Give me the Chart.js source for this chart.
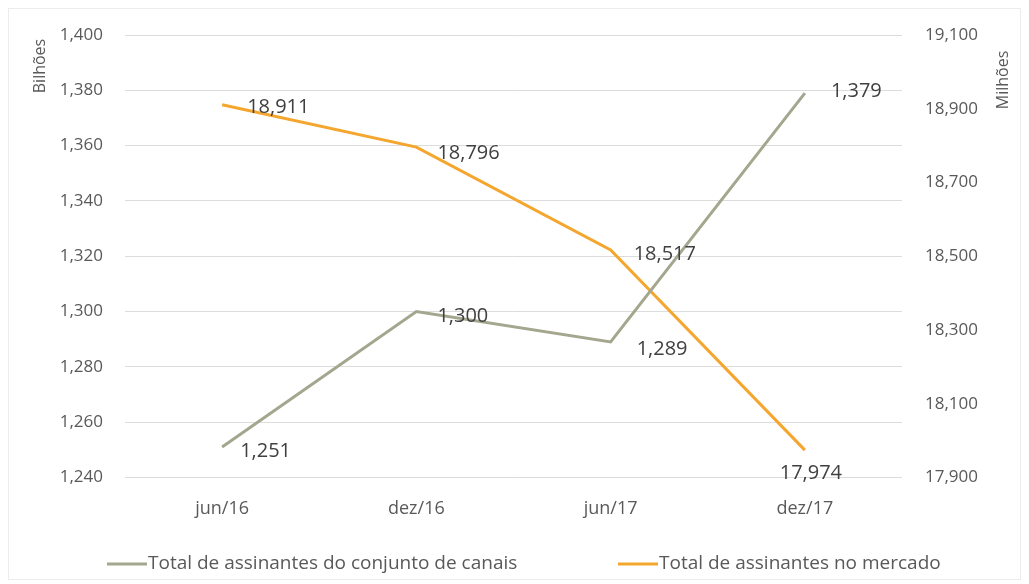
<!DOCTYPE html>
<html>
<head>
<meta charset="utf-8">
<script src="https://cdn.jsdelivr.net/npm/chart.js@4"></script>
<style>
  html, body { margin: 0; padding: 0; background: #fff; }
  #wrap { position: relative; width: 1029px; height: 584px; }
  #frame { position: absolute; left: 8px; top: 8px; right: 8px; bottom: 4px; border: 1px solid #ececec; pointer-events: none; }
</style>
</head>
<body>
<div id="wrap">
  <canvas id="assinantesChart" width="1029" height="584"></canvas>
  <div id="frame"></div>
</div>
<script>
const periodos = ['jun/16', 'dez/16', 'jun/17', 'dez/17'];
const conjuntoCanais = [1251, 1300, 1289, 1379];   // bilhões
const totalMercado = [18911, 18796, 18517, 17974]; // milhões
const ticksEsquerda = [1240, 1260, 1280, 1300, 1320, 1340, 1360, 1380, 1400];
const ticksDireita = [17900, 18100, 18300, 18500, 18700, 18900, 19100];

const corCanais = '#a4a68e';
const corMercado = '#f4a62e';
const corTexto = '#595959';
const fonte = '"Open Sans", "DejaVu Sans", sans-serif';

const fmt = v => v.toLocaleString('en-US');

// label offsets per point (style only)
const offsets = [
    [[18, 4, 'left'], [21, 5, 'left'], [26, 7, 'left'], [26, -2, 'left']],
    [[25, 3, 'left'], [21, 6, 'left'], [23, 4, 'left'], [6, 23, 'center']]
];
// legend item start x
const legendaX = [107, 618];

const rotulos = {
    id: 'rotulos',
    afterDatasetsDraw(chart) {
        const ctx = chart.ctx;
        ctx.save();
        ctx.font = '20px ' + fonte;
        ctx.fillStyle = '#404040';
        ctx.textBaseline = 'middle';
        chart.data.datasets.forEach((ds, i) => {
            chart.getDatasetMeta(i).data.forEach((pt, j) => {
                const o = offsets[i][j];
                ctx.textAlign = o[2];
                ctx.fillText(fmt(ds.data[j]), pt.x + o[0], pt.y + o[1]);
            });
        });
        // legend
        ctx.font = '19px ' + fonte;
        ctx.fillStyle = corTexto;
        ctx.textAlign = 'left';
        chart.data.datasets.forEach((ds, i) => {
            const x = legendaX[i], y = 564;
            ctx.strokeStyle = ds.borderColor;
            ctx.lineWidth = 3;
            ctx.beginPath();
            ctx.moveTo(x, y);
            ctx.lineTo(x + 40, y);
            ctx.stroke();
            ctx.fillText(ds.label, x + 41, y);
        });
        // axis titles
        ctx.font = '16px ' + fonte;
        ctx.textAlign = 'center';
        ctx.translate(40, 66);
        ctx.rotate(-Math.PI / 2);
        ctx.fillText('Bilhões', 0, 0);
        ctx.restore();
        ctx.save();
        ctx.font = '16px ' + fonte;
        ctx.fillStyle = corTexto;
        ctx.textAlign = 'center';
        ctx.textBaseline = 'middle';
        ctx.translate(1003, 80);
        ctx.rotate(-Math.PI / 2);
        ctx.fillText('Milhões', 0, 0);
        ctx.restore();
    }
};

new Chart(document.getElementById('assinantesChart').getContext('2d'), {
    type: 'line',
    data: {
        labels: periodos,
        datasets: [{
            label: 'Total de assinantes do conjunto de canais',
            data: conjuntoCanais,
            borderColor: corCanais,
            backgroundColor: corCanais,
            borderWidth: 3,
            pointRadius: 0,
            tension: 0,
            yAxisID: 'y'
        }, {
            label: 'Total de assinantes no mercado',
            data: totalMercado,
            borderColor: corMercado,
            backgroundColor: corMercado,
            borderWidth: 3,
            pointRadius: 0,
            tension: 0,
            yAxisID: 'y2'
        }]
    },
    options: {
        responsive: false,
        animation: false,
        layout: { padding: { top: 35, right: 0, bottom: 51, left: 0 } },
        plugins: {
            legend: { display: false },
            tooltip: { enabled: false }
        },
        scales: {
            x: {
                offset: true,
                grid: { display: false },
                border: { display: false },
                ticks: { color: corTexto, padding: 13, font: { family: fonte, size: 18 } }
            },
            y: {
                position: 'left',
                min: 1240,
                max: 1400,
                afterFit: s => { s.width = 125; },
                afterBuildTicks: s => { s.ticks = ticksEsquerda.map(v => ({ value: v })); },
                grid: { color: '#dcdcdc', drawTicks: false },
                border: { display: false },
                ticks: { color: corTexto, padding: 22, font: { family: fonte, size: 17 }, callback: v => fmt(v) }
            },
            y2: {
                position: 'right',
                min: 17900,
                max: 19100,
                afterFit: s => { s.width = 127; },
                afterBuildTicks: s => { s.ticks = ticksDireita.map(v => ({ value: v })); },
                grid: { display: false },
                border: { display: false },
                ticks: { color: corTexto, padding: 15, font: { family: fonte, size: 17 }, callback: v => fmt(v) }
            }
        }
    },
    plugins: [rotulos]
});
</script>
</body>
</html>
